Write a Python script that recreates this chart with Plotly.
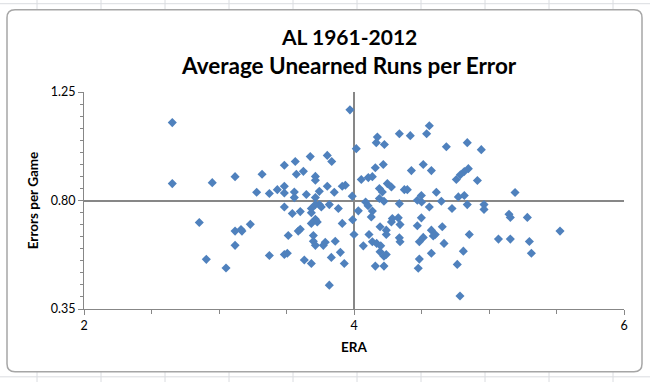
import plotly.graph_objects as go

era = [2.654, 2.654, 2.950, 2.854, 2.906, 5.193, 5.148, 5.158, 5.284, 5.526, 5.070, 5.158, 5.299, 5.314,
       3.970, 3.119, 3.319, 3.484, 3.565, 3.676, 3.802, 3.835, 3.573, 3.625, 3.714, 3.714, 3.279, 3.373,
       3.432, 3.484, 3.484, 3.558, 3.558, 3.647, 3.714, 3.743, 3.802, 3.854, 3.913, 3.936, 3.987,
       3.484, 3.543, 3.602, 3.684, 3.684, 3.714, 3.743, 3.758, 3.817, 3.884, 3.714, 3.728, 3.684, 3.913,
       3.990, 3.119, 3.163, 3.170, 3.232, 3.119, 3.052, 3.373, 3.484, 3.506, 3.513, 3.587, 3.602, 3.699,
       3.699, 3.714, 3.773, 3.787, 3.861, 3.632, 3.684, 3.832, 3.899, 3.928, 3.817, 4.000,
       4.017, 4.558, 4.538, 4.336, 4.417, 4.173, 4.165, 4.225, 4.684, 4.839, 4.943, 4.158, 4.217, 4.425,
       4.513, 4.573, 4.054, 4.106, 4.136, 4.847, 4.817, 4.788, 4.758, 4.914, 4.188, 4.210, 4.247, 4.277,
       4.373, 4.395, 4.610, 4.499, 4.773, 4.817, 4.188,
       4.086, 4.222, 4.104, 4.032, 4.136, 4.128, 4.336, 4.469, 4.501, 4.558, 4.647, 4.726, 4.839, 4.963,
       4.963, 4.284, 4.277, 4.328, 4.341, 4.499, 4.469, 4.193, 4.239, 4.239, 4.111, 4.136, 4.069, 4.168,
       4.198, 4.193, 4.222, 4.239, 4.336, 4.341, 4.484, 4.513, 4.573, 4.602, 4.587, 4.654, 4.667, 4.854,
       4.573, 4.810, 4.484, 4.476, 4.158, 4.222, 4.765, 4.785]

errors = [1.123, 0.870, 0.874, 0.709, 0.556, 0.833, 0.743, 0.730, 0.730, 0.673, 0.640, 0.640, 0.630, 0.581,
          1.176, 0.899, 0.909, 0.946, 0.962, 0.982, 0.987, 0.962, 0.909, 0.921, 0.900, 0.884, 0.834, 0.829,
          0.845, 0.859, 0.831, 0.835, 0.812, 0.825, 0.812, 0.838, 0.859, 0.834, 0.859, 0.863, 0.818,
          0.773, 0.746, 0.754, 0.767, 0.749, 0.783, 0.783, 0.773, 0.783, 0.767, 0.722, 0.711, 0.705, 0.705,
          0.720, 0.673, 0.680, 0.673, 0.701, 0.614, 0.520, 0.572, 0.576, 0.581, 0.655, 0.673, 0.681, 0.655,
          0.631, 0.614, 0.614, 0.627, 0.631, 0.553, 0.539, 0.564, 0.585, 0.539, 0.449, 0.659,
          1.015, 1.110, 1.077, 1.077, 1.069, 1.063, 1.040, 1.032, 1.023, 1.040, 1.011, 0.936, 0.949, 0.924,
          0.949, 0.924, 0.887, 0.895, 0.899, 0.932, 0.920, 0.907, 0.887, 0.883, 0.850, 0.835, 0.870, 0.856,
          0.845, 0.845, 0.834, 0.821, 0.815, 0.821, 0.808,
          0.794, 0.797, 0.778, 0.757, 0.756, 0.732, 0.787, 0.801, 0.794, 0.773, 0.797, 0.767, 0.783, 0.783,
          0.763, 0.725, 0.711, 0.728, 0.700, 0.728, 0.695, 0.691, 0.677, 0.659, 0.659, 0.629, 0.612, 0.622,
          0.612, 0.587, 0.569, 0.576, 0.645, 0.629, 0.629, 0.647, 0.677, 0.659, 0.653, 0.691, 0.622, 0.659,
          0.581, 0.590, 0.557, 0.519, 0.528, 0.528, 0.535, 0.404]

x_ticks = [2, 4, 6]
x_tick_labels = ["2", "4", "6"]
y_ticks = [0.35, 0.80, 1.25]
y_tick_labels = ["0.35", "0.80", "1.25"]

title_line1 = "AL 1961-2012"
title_line2 = "Average Unearned Runs per Error"
x_title = "ERA"
y_title = "Errors per Game"

FONT = "Lato, 'Open Sans', sans-serif"
GRID = "#878787"

fig = go.Figure()
fig.add_trace(go.Scatter(
    x=era, y=errors, mode="markers",
    marker=dict(symbol="diamond", size=7, color="#4F81BD", line=dict(width=0)),
    hoverinfo="x+y", showlegend=False,
))

W, H = 650, 382


def px(x):
    return (x - 84) / 540


def py(y):
    return (309 - y) / 217.5


shapes = []
# spreadsheet cell grid outside the chart frame
for gx in range(37, 650, 64):
    shapes.append(dict(type="line", xref="paper", yref="paper", layer="below",
                       x0=px(gx), x1=px(gx), y0=-2, y1=2,
                       line=dict(color="#DADCE0", width=1)))
for gy in [3, 377]:
    shapes.append(dict(type="line", xref="paper", yref="paper", layer="below",
                       x0=-1, x1=2, y0=py(gy), y1=py(gy), line=dict(color="#DADCE0", width=1)))

# rounded chart frame
L, R, T, B, r = 7, 642, 9, 372, 8
path = (f"M {px(L + r)},{py(T)} L {px(R - r)},{py(T)} Q {px(R)},{py(T)} {px(R)},{py(T + r)} "
        f"L {px(R)},{py(B - r)} Q {px(R)},{py(B)} {px(R - r)},{py(B)} "
        f"L {px(L + r)},{py(B)} Q {px(L)},{py(B)} {px(L)},{py(B - r)} "
        f"L {px(L)},{py(T + r)} Q {px(L)},{py(T)} {px(L + r)},{py(T)} Z")
shapes.append(dict(type="path", xref="paper", yref="paper", layer="below", path=path,
                   fillcolor="white", line=dict(color="#A6A6A6", width=1.5)))

fig.update_layout(
    width=W, height=H,
    margin=dict(l=84, r=26, t=91.5, b=73),
    paper_bgcolor="white", plot_bgcolor="rgba(0,0,0,0)",
    font=dict(family=FONT, size=12, color="#000000"),
    shapes=shapes,
    xaxis=dict(
        range=[2, 6], tickvals=x_ticks, ticktext=x_tick_labels,
        showgrid=True, gridcolor=GRID, gridwidth=2,
        showline=True, linecolor=GRID, linewidth=1,
        ticks="outside", ticklen=5, tickcolor=GRID, tickwidth=1,
        minor=dict(dtick=0.5, tick0=2, ticks="outside", ticklen=4, tickcolor=GRID, tickwidth=1,
                   showgrid=False),
        zeroline=False, fixedrange=True, tickfont=dict(size=12.5),
    ),
    yaxis=dict(
        range=[0.35, 1.25], tickvals=y_ticks, ticktext=y_tick_labels,
        showgrid=True, gridcolor=GRID, gridwidth=2,
        showline=True, linecolor=GRID, linewidth=1,
        ticks="outside", ticklen=5, tickcolor=GRID, tickwidth=1,
        minor=dict(tickvals=[0.35 + 0.05 * i for i in range(19)], ticks="outside", ticklen=3,
                   tickcolor=GRID, tickwidth=1, showgrid=False),
        zeroline=False, fixedrange=True, tickfont=dict(size=12.5),
    ),
    annotations=[
        dict(text=f"<b>{title_line1}</b>", xref="paper", yref="paper", x=px(349), y=py(36),
             xanchor="center", yanchor="middle", showarrow=False, font=dict(size=21, family=FONT)),
        dict(text=f"<b>{title_line2}</b>", xref="paper", yref="paper", x=px(349), y=py(65),
             xanchor="center", yanchor="middle", showarrow=False, font=dict(size=22.5, family=FONT)),
        dict(text=f"<b>{x_title}</b>", xref="paper", yref="paper", x=px(354), y=py(347),
             xanchor="center", yanchor="middle", showarrow=False, font=dict(size=13.5, family=FONT)),
        dict(text=f"<b>{y_title}</b>", xref="paper", yref="paper", x=px(33), y=py(200),
             xanchor="center", yanchor="middle", showarrow=False, textangle=-90,
             font=dict(size=13.5, family=FONT)),
    ],
)

fig.write_html("out.html", config={"displayModeBar": False},
               post_script="document.body.style.margin='0';")
